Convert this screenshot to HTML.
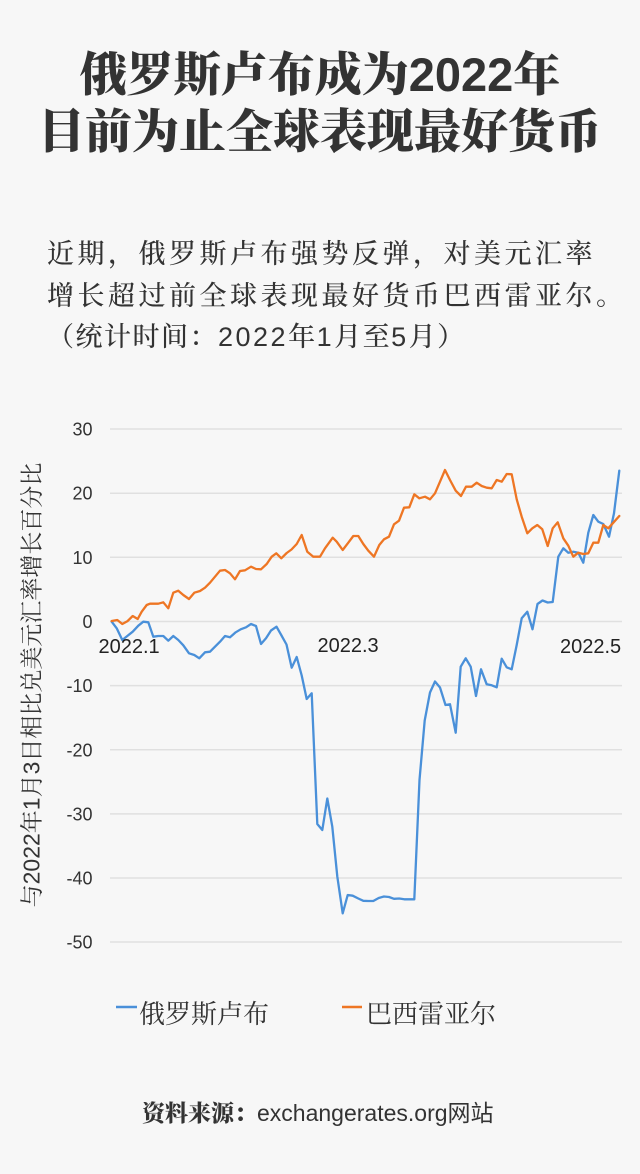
<!DOCTYPE html>
<html>
<head>
<meta charset="utf-8">
<style>
  html,body{margin:0;padding:0;background:#f7f7f7;}
  body{width:640px;height:1174px;overflow:hidden;}
  svg{display:block;}
</style>
</head>
<body>
<svg width="640" height="1174" viewBox="0 0 640 1174" xmlns="http://www.w3.org/2000/svg">
  <rect x="0" y="0" width="640" height="1174" fill="#f7f7f7"/>

  <!-- Title -->
  <g fill="#333333" font-family="'Liberation Serif','Noto Serif CJK SC',serif" font-weight="900" font-size="47" text-anchor="middle">
    <text x="320" y="91">俄罗斯卢布成为<tspan font-family="'Liberation Sans','Noto Sans CJK SC',sans-serif" font-weight="700">2022</tspan>年</text>
    <text x="320" y="148">目前为止全球表现最好货币</text>
  </g>

  <!-- Paragraph -->
  <g fill="#333333" font-family="'Liberation Serif','Noto Serif CJK SC',serif" font-weight="500" font-size="27">
    <text x="47" y="263" letter-spacing="3.5">近期，俄罗斯卢布强势反弹，对美元汇率</text>
    <text x="47" y="305" letter-spacing="3.5">增长超过前全球表现最好货币巴西雷亚尔。</text>
    <text x="47" y="346" letter-spacing="1.5">（统计时间：<tspan font-family="'Liberation Sans',sans-serif" font-weight="400" letter-spacing="2.5">2022</tspan>年<tspan font-family="'Liberation Sans',sans-serif" font-weight="400" letter-spacing="2.5">1</tspan>月至<tspan font-family="'Liberation Sans',sans-serif" font-weight="400" letter-spacing="2.5">5</tspan>月）</text>
  </g>

  <!-- Gridlines -->
  <g stroke="#e0e0e0" stroke-width="1.5">
    <line x1="110" y1="429" x2="622" y2="429"/>
    <line x1="110" y1="493.2" x2="622" y2="493.2"/>
    <line x1="110" y1="557.3" x2="622" y2="557.3"/>
    <line x1="110" y1="621.5" x2="622" y2="621.5"/>
    <line x1="110" y1="685.6" x2="622" y2="685.6"/>
    <line x1="110" y1="749.8" x2="622" y2="749.8"/>
    <line x1="110" y1="813.9" x2="622" y2="813.9"/>
    <line x1="110" y1="878" x2="622" y2="878"/>
    <line x1="110" y1="942" x2="622" y2="942"/>
  </g>

  <!-- Y tick labels -->
  <g fill="#333333" font-family="'Liberation Sans',sans-serif" font-size="18" text-anchor="end">
    <text x="92.5" y="435.5">30</text>
    <text x="92.5" y="499.7">20</text>
    <text x="92.5" y="563.8">10</text>
    <text x="92.5" y="628">0</text>
    <text x="92.5" y="692.1">-10</text>
    <text x="92.5" y="756.3">-20</text>
    <text x="92.5" y="820.4">-30</text>
    <text x="92.5" y="884.5">-40</text>
    <text x="92.5" y="948.5">-50</text>
  </g>

  <!-- Y axis title -->
  <g transform="translate(31,685) rotate(-90)">
    <text x="0" y="8.7" text-anchor="middle" fill="#333333" font-family="'Liberation Sans','Noto Serif CJK SC',serif" font-size="23">与2022年1月3日相比兑美元汇率增长百分比</text>
  </g>

  <!-- Series -->
  <polyline fill="none" stroke="#4a90d9" stroke-width="2.3" stroke-linejoin="round" stroke-linecap="round" points="
111.7,621.7 116.7,628.3 122.3,640 127.3,636 132.7,631.7 138.3,625.7 143.3,621.7 148.3,622.3 153.3,636.7 158.3,636 163.3,636 168.3,640.7 173.3,636 178.3,640 183.3,645.3 189,653.3 194.3,655 199.3,658.3 205,652.3 210,651.7 215,646.7 220,641.7 225,636 230,637.3 235.7,632.3 240.7,629.3 246,627.3 251,624 256,626 261,644 266,638.3 271,630.5 276.5,626.7 281.5,635.5 286.5,644.5 291.7,667.7 296.7,657 301.7,675.5 306.7,699 311.7,693.3 317.3,824 322.3,830 327.3,798.5 332.3,826.7 337.3,876.5 342.7,913.3 347.7,895 352.7,895.7 358.3,898.5 363.3,900.8 368.3,901 373.3,901 378.7,898 384,896.5 389,897 394,898.8 399.2,898.5 404.3,899.3 409.3,899.3 414.3,899.3 419.5,780 424.7,720.5 430,692.5 435,681.5 440,687.5 445.5,705 450,704.2 455.7,732.7 460.7,666.7 465.7,658.3 470.7,666.7 476,696 481,669.3 486.7,684.3 491.7,685.3 496.7,687.3 501.7,658.7 506.7,667.3 511.7,669.3 516.7,645 521.7,618.3 527.3,611.7 532.5,629.3 537.5,604 542.5,600.5 547.7,602.5 552.7,602 558.3,556.7 563.3,548.3 568.3,552.7 573.3,551.7 578.3,552.7 583.3,562.7 588.3,532.7 593.3,515 598.3,521.7 603.3,524 609,536.7 614,513.3 619.3,470.7"/>

  <polyline fill="none" stroke="#ee7624" stroke-width="2.3" stroke-linejoin="round" stroke-linecap="round" points="
111.7,621 117.3,620 122.3,624 127.3,621.3 132.7,616 137.7,619 141.7,611.7 146.7,605 150,603.7 158.3,603.7 163.3,602.3 168.3,608.3 173.3,592.7 178.3,590.7 183.3,595 189,599 194.3,592.7 200,591 205,587.7 210,582.7 215,576.7 220,570.7 225,570 230,573.3 235,579.3 240,571 245,570.3 251,566.7 256,569 261,569.3 266.7,564 271.7,556.7 276.3,553.3 281.3,558.3 286.7,553 291.5,549.5 296.7,544 301.7,535 307.3,551.7 313.3,556.7 320,556.7 325,548.3 332.7,537.7 336.7,541.7 342.7,550 348.3,542.7 353.3,536 358.3,536 363.3,544 368.3,550.7 374,556.7 379.3,545 384,539.3 389,536.7 394,524.3 399,520.7 404,507.7 409.3,507.3 414.3,494.3 419.3,498.3 425,496.7 430,499.3 435,493.3 440,481.7 445,470 450,480 455.7,490.7 461,496 466,486.7 471.7,486.7 476.7,482.7 481.7,486 486.7,487.7 491.7,488.3 496.7,480 501.7,481.7 506.7,474 511.7,474.3 516.7,499.3 521.7,516.7 527.3,533.3 532.3,528.3 537.3,525 542.3,529.3 547.7,546 552.7,528.3 557.7,522.3 563.3,538.3 568.3,545.7 573.3,556.7 578.3,552.7 583.3,554 588.3,553.3 593.3,542.7 598.3,542.7 603.3,525 608.3,528.3 613.3,522.7 619.3,516"/>

  <!-- X labels -->
  <g fill="#222222" font-family="'Liberation Sans',sans-serif" font-size="20">
    <text x="98.5" y="653">2022.1</text>
    <text x="317.5" y="652">2022.3</text>
    <text x="560" y="653">2022.5</text>
  </g>

  <!-- Legend -->
  <line x1="116" y1="1007" x2="137" y2="1007" stroke="#4a90d9" stroke-width="2.5"/>
  <line x1="342" y1="1007" x2="362" y2="1007" stroke="#ee7624" stroke-width="2.5"/>
  <g fill="#333333" font-family="'Liberation Serif','Noto Serif CJK SC',serif" font-size="26">
    <text x="139" y="1023">俄罗斯卢布</text>
    <text x="366" y="1023">巴西雷亚尔</text>
  </g>

  <!-- Source -->
  <text x="142" y="1121" fill="#333333" font-size="23"><tspan font-family="'Liberation Serif','Noto Serif CJK SC',serif" font-weight="900">资料来源：</tspan><tspan font-family="'Liberation Sans','Noto Sans CJK SC',sans-serif">exchangerates.org网站</tspan></text>
</svg>
</body>
</html>
